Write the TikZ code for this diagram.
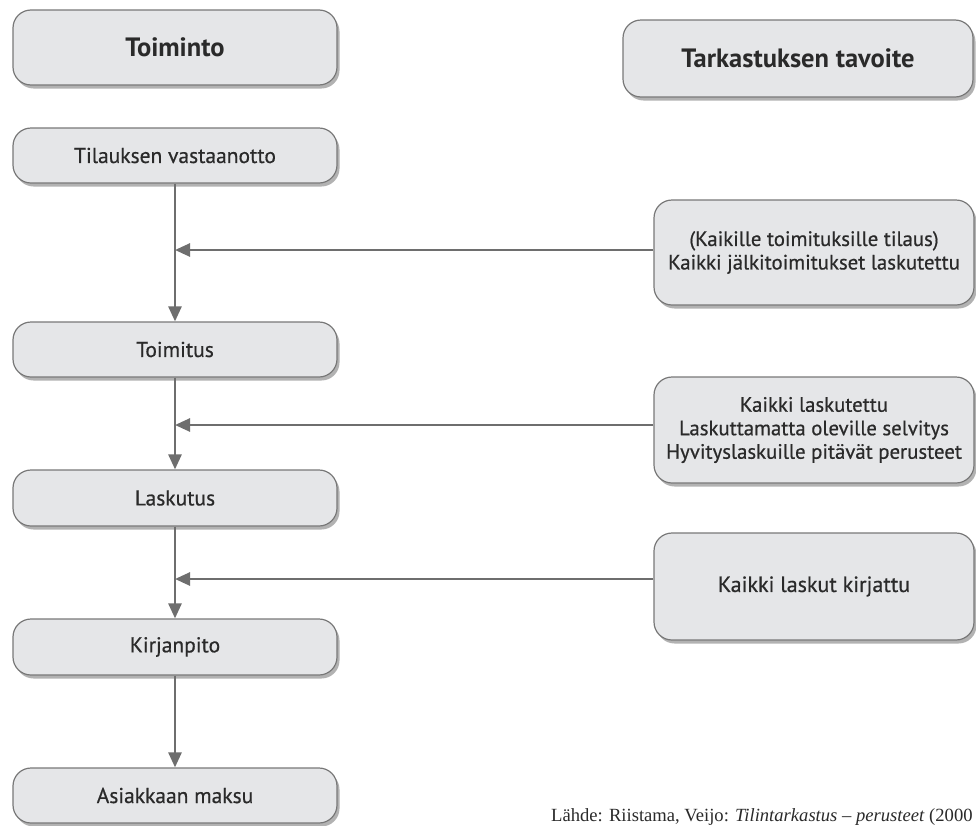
\documentclass[tikz,border=0pt]{standalone}
\usepackage{fontspec}
\setmainfont{PT Sans}
\newfontfamily\boxfont{PT Sans}[FakeBold=0.6]
\newfontfamily\credfont{Liberation Serif}
\usetikzlibrary{shadows,arrows.meta}
\definecolor{boxfill}{HTML}{E5E6E8}
\definecolor{boxline}{HTML}{787878}
\definecolor{arrcol}{HTML}{6E6E6E}
\definecolor{txt}{HTML}{2A2A2A}
\tikzset{
  roundbox/.style={draw=boxline, line width=1.2pt, fill=boxfill, rounded corners=18pt,
    drop shadow={shadow xshift=2.5pt, shadow yshift=-3.5pt, fill=black, opacity=0.3},
    text=txt, align=center, inner sep=0pt},
  leftbox/.style={roundbox, minimum width=324pt, minimum height=55pt, font=\boxfont\fontsize{21.5}{24}\selectfont},
  headbox/.style={roundbox, font=\fontsize{26.5}{30}\selectfont\bfseries},
  rightbox/.style={roundbox, minimum width=320pt, font=\boxfont\fontsize{20.8}{23.5}\selectfont},
  flow/.style={draw=arrcol, line width=2.6pt, -{Triangle[length=15pt, width=13pt]}},
}
\begin{document}
\begin{tikzpicture}[x=1pt, y=-1pt]
\useasboundingbox (0,0) rectangle (976,825);
\fill[white] (0,0) rectangle (976,825);
% left column
\node[headbox, minimum width=324pt, minimum height=75pt] (toim) at (175,47.5) {Toiminto};
\node[leftbox] (tila) at (175,155.5) {Tilauksen vastaanotto};
\node[leftbox] (toimitus) at (175,349.5) {Toimitus};
\node[leftbox, minimum height=56pt] (lask) at (175,498) {Laskutus};
\node[leftbox, minimum height=56pt] (kirj) at (175,647) {Kirjanpito};
\node[leftbox] (asiak) at (175,795.5) {Asiakkaan maksu};
% right column
\node[headbox, minimum width=350pt, minimum height=77pt] (tark) at (798,58.5) {Tarkastuksen tavoite};
\node[rightbox, minimum height=105pt] (r1) at (814,252.5) {(Kaikille toimituksille tilaus)\\Kaikki jälkitoimitukset laskutettu};
\node[rightbox, minimum height=106pt] (r2) at (814,430) {Kaikki laskutettu\\Laskuttamatta oleville selvitys\\Hyvityslaskuille pitävät perusteet};
\node[rightbox, minimum height=107pt, font=\boxfont\fontsize{22}{25}\selectfont] (r3) at (814,586.5) {Kaikki laskut kirjattu};
% connectors
\draw[flow] (tila.south) -- (toimitus.north);
\draw[flow] (toimitus.south) -- (lask.north);
\draw[flow] (lask.south) -- (kirj.north);
\draw[flow] (kirj.south) -- (asiak.north);
\draw[flow] (r1.west |- 0,250) -- (175,250);
\draw[flow] (r2.west |- 0,425) -- (175,425);
\draw[flow] (r3.west |- 0,579) -- (175,579);
% credit
\node[anchor=base west, inner sep=0pt, text=txt, font=\credfont\fontsize{18.6}{21}\selectfont] (cred) at (551,821) {Lähde: Riistama, Veijo: \textit{Tilintarkastus – perusteet} (2000};
\end{tikzpicture}
\end{document}
